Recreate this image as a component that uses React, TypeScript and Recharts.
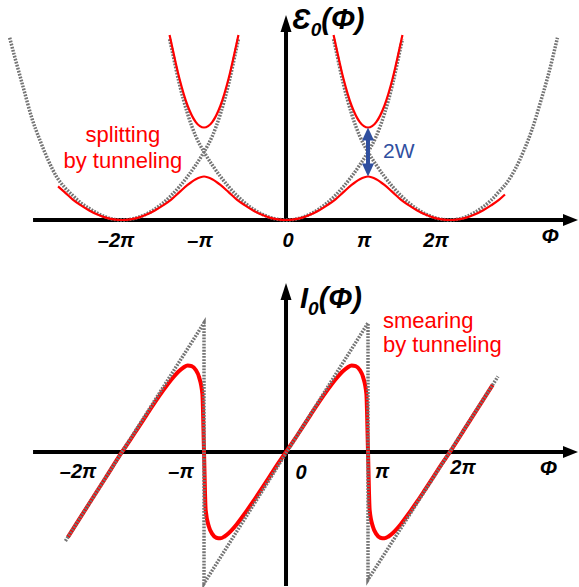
import React from 'react';
import { LineChart, Line, XAxis, YAxis, ReferenceLine, ReferenceDot } from 'recharts';

// Φ is in units of π. Top: energy in units of the level-crossing height. Bottom: current in units of the sawtooth peak.

const tickValues = [-2, -1, 0, 1, 2];
const tickLabels = ['–2π', '–π', '0', 'π', '2π'];

// unperturbed parabolas (gray dotted)
const leftParabolaPhi = [-3.37, -3.3, -3.2, -3.1, -3.0, -2.9, -2.8, -2.7, -2.6, -2.5, -2.4, -2.3, -2.2, -2.1, -2.0,
  -1.9, -1.8, -1.7, -1.6, -1.5, -1.4, -1.3, -1.2, -1.1, -1.0, -0.9, -0.8, -0.7, -0.6, -0.58];
const leftParabolaE = [2.68, 2.36, 1.93, 1.5, 1.17, 0.88, 0.64, 0.48, 0.36, 0.25, 0.17, 0.1, 0.045, 0.01, 0,
  0.01, 0.04, 0.09, 0.16, 0.25, 0.36, 0.49, 0.64, 0.81, 1.0, 1.23, 1.56, 2.0, 2.55, 2.66];

const midParabolaPhi = [-1.42, -1.4, -1.3, -1.2, -1.1, -1.0, -0.9, -0.8, -0.7, -0.6, -0.5, -0.4, -0.3, -0.2, -0.1, 0,
  0.1, 0.2, 0.3, 0.4, 0.5, 0.6, 0.7, 0.8, 0.9, 1.0, 1.1, 1.2, 1.3, 1.4, 1.42];
const midParabolaE = [2.66, 2.55, 2.0, 1.56, 1.23, 1.0, 0.81, 0.64, 0.49, 0.36, 0.25, 0.16, 0.09, 0.04, 0.01, 0,
  0.01, 0.04, 0.09, 0.16, 0.25, 0.36, 0.49, 0.64, 0.81, 1.0, 1.23, 1.56, 2.0, 2.55, 2.66];

const rightParabolaPhi = [0.58, 0.6, 0.7, 0.8, 0.9, 1.0, 1.1, 1.2, 1.3, 1.4, 1.5, 1.6, 1.7, 1.8, 1.9, 2.0,
  2.1, 2.2, 2.3, 2.4, 2.5, 2.6, 2.7, 2.8, 2.9, 3.0, 3.1, 3.2, 3.31];
const rightParabolaE = [2.66, 2.55, 2.0, 1.56, 1.23, 1.0, 0.81, 0.64, 0.49, 0.36, 0.25, 0.16, 0.09, 0.04, 0.01, 0,
  0.015, 0.05, 0.11, 0.19, 0.29, 0.42, 0.56, 0.76, 1.02, 1.33, 1.72, 2.14, 2.68];

// bands split by tunneling (red)
const lowerBandPhi = [-2.78, -2.7, -2.6, -2.5, -2.4, -2.3, -2.2, -2.1, -2.0,
  -1.9, -1.8, -1.7, -1.6, -1.5, -1.4, -1.3, -1.2, -1.1, -1.0,
  -0.9, -0.8, -0.7, -0.6, -0.5, -0.4, -0.3, -0.2, -0.1, 0,
  0.1, 0.2, 0.3, 0.4, 0.5, 0.6, 0.7, 0.8, 0.9, 1.0,
  1.1, 1.2, 1.3, 1.4, 1.5, 1.6, 1.7, 1.8, 1.9, 2.0,
  2.1, 2.2, 2.3, 2.4, 2.5, 2.6, 2.67];
const lowerBandE = [0.495, 0.41, 0.3, 0.215, 0.14, 0.08, 0.035, 0.009, 0,
  0.009, 0.035, 0.08, 0.14, 0.215, 0.3, 0.41, 0.516, 0.6, 0.64,
  0.6, 0.516, 0.41, 0.3, 0.215, 0.14, 0.08, 0.035, 0.009, 0,
  0.009, 0.035, 0.08, 0.14, 0.215, 0.3, 0.41, 0.516, 0.6, 0.64,
  0.6, 0.516, 0.41, 0.3, 0.215, 0.14, 0.08, 0.035, 0.009, 0,
  0.009, 0.035, 0.08, 0.14, 0.215, 0.3, 0.375];

const upperLeftPhi = [-1.42, -1.4, -1.3, -1.2, -1.1, -1.05, -1.0, -0.95, -0.9, -0.8, -0.7, -0.6, -0.58];
const upperRightPhi = [0.58, 0.6, 0.7, 0.8, 0.9, 0.95, 1.0, 1.05, 1.1, 1.2, 1.3, 1.4, 1.42];
const upperBandE = [2.72, 2.61, 2.08, 1.68, 1.44, 1.38, 1.36, 1.38, 1.44, 1.68, 2.08, 2.61, 2.72];

// current: ideal sawtooth (gray dotted) and smeared one (red)
const sawtoothPhi = [-2.69, -1, -1, 1, 1, 2.585];
const sawtoothI = [-0.69, 1, -1.02, 1, -0.99, 0.585];

const smearedPhi = [-2.66, -2.4, -2.2, -2.0, -1.9, -1.8, -1.7, -1.6, -1.5, -1.4,
  -1.3, -1.25, -1.2, -1.15, -1.1, -1.06, -1.02, -1.0, -0.98, -0.94,
  -0.9, -0.85, -0.8, -0.75, -0.7, -0.6, -0.5, -0.4, -0.3, -0.2,
  -0.1, 0, 0.1, 0.2, 0.3, 0.4, 0.5, 0.6, 0.7, 0.75,
  0.8, 0.85, 0.9, 0.94, 0.98, 1.0, 1.02, 1.06, 1.1, 1.15,
  1.2, 1.25, 1.3, 1.4, 1.5, 1.6, 1.7, 1.8, 1.9, 2.0,
  2.2, 2.4, 2.52];
const smearedI = [-0.66, -0.4, -0.2, 0, 0.093, 0.191, 0.288, 0.384, 0.475, 0.56,
  0.63, 0.655, 0.67, 0.665, 0.635, 0.58, 0.45, 0, -0.45, -0.58,
  -0.635, -0.665, -0.67, -0.655, -0.63, -0.56, -0.475, -0.384, -0.288, -0.191,
  -0.093, 0, 0.093, 0.191, 0.288, 0.384, 0.475, 0.56, 0.63, 0.655,
  0.67, 0.665, 0.635, 0.58, 0.45, 0, -0.45, -0.58, -0.635, -0.665,
  -0.67, -0.655, -0.63, -0.56, -0.475, -0.384, -0.288, -0.191, -0.093, 0,
  0.2, 0.4, 0.52];

const zip = (xs: number[], ys: number[]) => xs.map((x, i) => ({ x, y: ys[i] }));

const FONT = '"Liberation Sans", Arial, sans-serif';
const RED = '#ff0000';
const GRAY = '#747474';
const BLUE = '#2f4f9f';

type P = { cx?: number; cy?: number };

const arrowRight = (p: P) => {
  const cx = p.cx ?? 0, cy = p.cy ?? 0;
  return <polygon points={`${cx},${cy} ${cx - 15},${cy - 6} ${cx - 15},${cy + 6}`} fill="#000" />;
};
const arrowUp = (color: string, len: number, half: number) => (p: P) => {
  const cx = p.cx ?? 0, cy = p.cy ?? 0;
  return <polygon points={`${cx},${cy} ${cx - half},${cy + len} ${cx + half},${cy + len}`} fill={color} />;
};
const arrowDown = (color: string, len: number, half: number) => (p: P) => {
  const cx = p.cx ?? 0, cy = p.cy ?? 0;
  return <polygon points={`${cx},${cy} ${cx - half},${cy - len} ${cx + half},${cy - len}`} fill={color} />;
};

const label = (lines: string[], dx: number, dy: number, opts: {
  size: number; color?: string; bold?: boolean; anchor?: 'start' | 'middle' | 'end'; gap?: number;
}) => (p: P) => {
  const x = (p.cx ?? 0) + dx, y = (p.cy ?? 0) + dy;
  return (
    <text x={x} y={y} fontFamily={FONT} fontSize={opts.size} fill={opts.color ?? '#000'}
      fontWeight={opts.bold ? 'bold' : 'normal'} fontStyle={opts.bold ? 'italic' : 'normal'}
      textAnchor={opts.anchor ?? 'start'}>
      {lines.map((l, i) => (
        <tspan key={i} x={x} dy={i === 0 ? 0 : opts.gap ?? 0}>{l}</tspan>
      ))}
    </text>
  );
};

const title = (main: string, dx: number) => (p: P) => {
  const x = (p.cx ?? 0) + dx, y = p.cy ?? 0;
  return (
    <text x={x} y={y} fontFamily={FONT} fontSize={29} fontWeight="bold" fontStyle="italic" fill="#000">
      {main}
      <tspan fontSize={19} dy={7}>0</tspan>
      <tspan dy={-7}>(Φ)</tspan>
    </text>
  );
};

const topDx = [-6, -4, 2, -4, -14];
const bottomDx = [-44, -23, 15, 14, 13];
const bottomDy = [26, 26, 27, 26, 22];

const dotted = { stroke: GRAY, strokeWidth: 3.5, strokeDasharray: '1.8 1.3' };

function EnergyPanel() {
  const grayCurves = [
    zip(leftParabolaPhi, leftParabolaE),
    zip(midParabolaPhi, midParabolaE),
    zip(rightParabolaPhi, rightParabolaE),
  ];
  const redCurves = [
    zip(lowerBandPhi, lowerBandE),
    zip(upperLeftPhi, upperBandE),
    zip(upperRightPhi, upperBandE),
  ];
  return (
    <LineChart width={579} height={260} margin={{ top: 0, right: 0, bottom: 0, left: 0 }}>
      <XAxis type="number" dataKey="x" domain={[-3.488, 3.573]} allowDataOverflow hide />
      <YAxis type="number" dataKey="y" domain={[-0.588, 3.235]} allowDataOverflow hide />
      <ReferenceLine segment={[{ x: -3.085, y: 0 }, { x: 3.45, y: 0 }]} stroke="#000" strokeWidth={4} />
      <ReferenceLine segment={[{ x: 0, y: 0 }, { x: 0, y: 2.78 }]} stroke="#000" strokeWidth={4} />
      <ReferenceDot x={3.561} y={0} shape={arrowRight} />
      <ReferenceDot x={0} y={3.015} shape={arrowUp('#000', 17, 5.5)} />
      {grayCurves.map((d, i) => (
        <Line key={'g' + i} data={d} dataKey="y" type="monotone" {...dotted}
          dot={false} activeDot={false} isAnimationActive={false} />
      ))}
      {redCurves.map((d, i) => (
        <Line key={'r' + i} data={d} dataKey="y" type="monotone" stroke={RED} strokeWidth={2.2}
          dot={false} activeDot={false} isAnimationActive={false} />
      ))}
      <ReferenceLine segment={[{ x: 1, y: 1.18 }, { x: 1, y: 0.82 }]} stroke={BLUE} strokeWidth={4} />
      <ReferenceDot x={1} y={1.36} shape={arrowUp(BLUE, 13, 6)} />
      <ReferenceDot x={1} y={0.64} shape={arrowDown(BLUE, 13, 6)} />
      <ReferenceDot x={1} y={1} shape={label(['2W'], 15, 6, { size: 21, color: BLUE })} />
      <ReferenceDot x={-1.99} y={1.147} shape={label(['splitting', 'by tunneling'], 0, 0, { size: 22, color: RED, anchor: 'middle', gap: 26 })} />
      <ReferenceDot x={0} y={2.81} shape={title('Ɛ', 6)} />
      <ReferenceDot x={3.22} y={0} shape={label(['Φ'], 0, 23, { size: 21, bold: true, anchor: 'middle' })} />
      {tickValues.map((v, i) => (
        <ReferenceDot key={'t' + i} x={v} y={0} shape={label([tickLabels[i]], topDx[i], 27, { size: 20, bold: true, anchor: 'middle' })} />
      ))}
    </LineChart>
  );
}

function CurrentPanel() {
  return (
    <LineChart width={579} height={327} margin={{ top: 0, right: 0, bottom: 0, left: 0 }}>
      <XAxis type="number" dataKey="x" domain={[-3.488, 3.573]} allowDataOverflow hide />
      <YAxis type="number" dataKey="y" domain={[-1.047, 1.488]} allowDataOverflow hide />
      <ReferenceLine segment={[{ x: -3.085, y: 0 }, { x: 3.45, y: 0 }]} stroke="#000" strokeWidth={4} />
      <ReferenceLine segment={[{ x: 0, y: -1.04 }, { x: 0, y: 1.2 }]} stroke="#000" strokeWidth={4} />
      <ReferenceDot x={3.561} y={0} shape={arrowRight} />
      <ReferenceDot x={0} y={1.31} shape={arrowUp('#000', 17, 5.5)} />
      <Line data={zip(smearedPhi, smearedI)} dataKey="y" type="monotone" stroke={RED} strokeWidth={4}
        dot={false} activeDot={false} isAnimationActive={false} />
      <Line data={zip(sawtoothPhi, sawtoothI)} dataKey="y" type="linear" {...dotted}
        dot={false} activeDot={false} isAnimationActive={false} />
      <ReferenceDot x={0} y={1.116} shape={title('I', 14)} />
      <ReferenceDot x={1} y={1} shape={label(['smearing', 'by tunneling'], 15, 5, { size: 22, color: RED, gap: 24 })} />
      <ReferenceDot x={3.2} y={0} shape={label(['Φ'], 0, 23, { size: 21, bold: true, anchor: 'middle' })} />
      {tickValues.map((v, i) => (
        <ReferenceDot key={'t' + i} x={v} y={0} shape={label([tickLabels[i]], bottomDx[i], bottomDy[i], { size: 20, bold: true, anchor: 'middle' })} />
      ))}
    </LineChart>
  );
}

export default function App() {
  return (
    <div style={{ position: 'absolute', left: 0, top: 0, width: 579, height: 587, background: '#fff' }}>
      <div style={{ position: 'absolute', left: 0, top: 0 }}>
        <EnergyPanel />
      </div>
      <div style={{ position: 'absolute', left: 0, top: 260 }}>
        <CurrentPanel />
      </div>
    </div>
  );
}
